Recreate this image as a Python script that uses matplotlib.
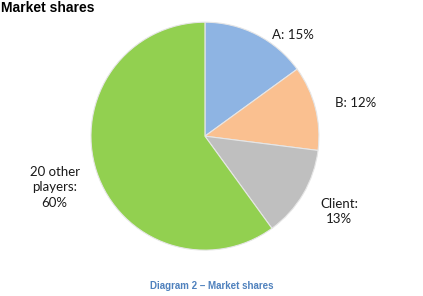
import matplotlib.pyplot as plt

labels = ['A: 15%', 'B: 12%', 'Client:\n13%', '20 other\nplayers:\n60%']
shares = [15, 12, 13, 60]
colors = ['#8EB4E3', '#FAC090', '#BFBFBF', '#92D050']
# label spots in pie units (radius = 1)
label_pos = [(0.77, 0.89), (1.32, 0.29), (1.18, -0.66), (-1.32, -0.45)]

fig = plt.figure(figsize=(4.23, 2.96), dpi=100)
ax = fig.add_axes([0.215, 0.155, 0.539, 0.770])
ax.pie(shares, colors=colors, startangle=90, counterclock=False,
       wedgeprops={'edgecolor': '#E6E6E6', 'linewidth': 0.8})
ax.set_xlim(-1, 1)
ax.set_ylim(-1, 1)
ax.set_aspect('equal')
ax.axis('off')

for lab, (x, y) in zip(labels, label_pos):
    ax.text(x, y, lab, ha='center', va='center', fontsize=9.5,
            family='Lato', color='#1a1a1a', linespacing=1.35, clip_on=False)

fig.text(0.002, 0.995, 'Market shares', ha='left', va='top', fontsize=10,
         fontweight='bold', family='Liberation Sans')
fig.text(0.5, 0.035, 'Diagram 2 \u2013 Market shares', ha='center', va='center',
         fontsize=7, fontweight='bold', family='Liberation Sans', color='#4F81BD')

fig.savefig('out.png', dpi=100)
